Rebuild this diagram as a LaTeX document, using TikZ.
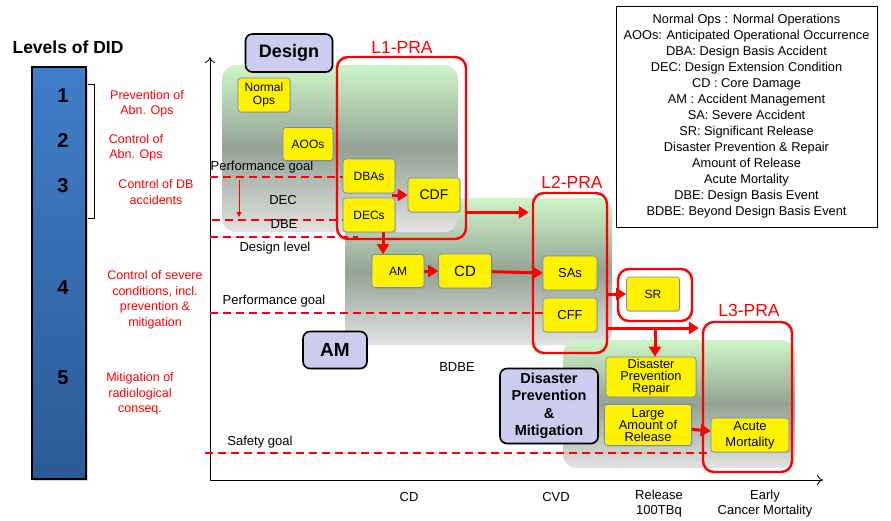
\documentclass[tikz,border=0pt]{standalone}
\usepackage{fontspec}
\setmainfont{Liberation Sans}
\usepackage{xcolor}
\usepackage{tikz}
\usetikzlibrary{arrows.meta, positioning, calc, shadows}
\tikzstyle{arr}      = [-{Triangle[length=10pt,width=12pt]}, line width=3pt, draw=red]
\newcommand{\fsz}[2]{\fontsize{#1}{#2}\selectfont}
\definecolor{didblue}{RGB}{64,126,202}
\definecolor{didbluedark}{RGB}{44,90,150}
\definecolor{lavfill}{RGB}{204,204,238}
\definecolor{ybord}{RGB}{110,140,180}
\definecolor{grtop}{RGB}{205,245,200}
\definecolor{grmid}{RGB}{148,162,148}
\definecolor{grbot}{RGB}{226,226,226}

\begin{document}
\begin{tikzpicture}[
  x=1pt, y=-1pt,
  yel/.style={rectangle, rounded corners=3pt, fill=yellow, draw=ybord,
              line width=0.7pt, align=center, inner sep=1pt,
              drop shadow={shadow xshift=1.2pt, shadow yshift=-1.2pt, opacity=0.3},
              font=\fsz{12}{13.7}},
  lavbox/.style={rectangle, rounded corners=7pt, fill=lavfill, draw=black,
                 line width=1.6pt, align=center, inner sep=1pt,
                 drop shadow={shadow xshift=1.2pt, shadow yshift=-1.2pt, opacity=0.3}},
  redbox/.style={rectangle, rounded corners=11pt, draw=red, line width=2.4pt},
  region/.style={rounded corners=14pt, top color=grtop, bottom color=grbot, middle color=grmid},
  goal/.style={draw=red, line width=1.6pt, dash pattern=on 8pt off 5pt},
  lbl/.style={font=\fsz{13}{15}, align=center},
  rtxt/.style={text=red, align=center, font=\fsz{12.5}{15.5}},
  num/.style={font=\bfseries\fsz{20}{22}},
  ar/.style={arr}
]
  \useasboundingbox (0,0) rectangle (891,520);

  % levels of defence in depth
  \node[font=\bfseries\fsz{17.5}{20}] (didtitle) at (68,47) {Levels of DID};
  \node[draw=black, line width=1.2pt, top color=didblue, bottom color=didbluedark,
        minimum width=54pt, minimum height=412pt, inner sep=0pt,
        drop shadow={shadow xshift=1.5pt, shadow yshift=-1.5pt, opacity=0.3}] (bar) at (59,273) {};
  \node[num] (n1) at (63,96)  {1};
  \node[num] (n2) at (63,141) {2};
  \node[num] (n3) at (63,186) {3};
  \node[num] (n4) at (63,288) {4};
  \node[num] (n5) at (63,378) {5};
  \draw[line width=0.8pt] (88,84) -- (94,84) -- (94,218) -- (88,218);

  \node[rtxt] (t1) at (147,104) {Prevention of\\Abn. Ops};
  \node[rtxt] (t2) at (136,148) {Control of\\Abn. Ops};
  \node[rtxt] (t3) at (156,192) {Control of DB\\accidents};
  \node[rtxt] (t4) at (155,300) {Control of severe\\conditions, incl.\\prevention \&\\mitigation};
  \node[rtxt] (t5) at (140,394) {Mitigation of\\radiological\\conseq.};

  % green regions
  \path[region] (345,198) rectangle (612,345);
  \path[region] (563,340) rectangle (795,468);
  \path[region] (222,65) rectangle (458,232);

  % axes
  \coordinate (O) at (210,480);
  \coordinate (ytop) at (210,57);
  \coordinate (xend) at (823,480);
  \draw[line width=0.8pt, -{To[length=6pt,width=10pt]}] (O) -- (ytop);
  \draw[line width=0.8pt, -{To[length=6pt,width=10pt]}] (O) -- (xend);
  \node[lbl] (xcd)  at (409,497) {CD};
  \node[lbl] (xcvd) at (556,497) {CVD};
  \node[lbl] (xrel) at (659,504) {Release\\100TBq};
  \node[lbl] (xmor) at (765,504) {Early\\Cancer Mortality};

  % goal lines
  \draw[goal] (210,177) -- (343,177);
  \draw[goal] (212,220) -- (343,220);
  \draw[goal] (210,237) -- (358,237);
  \draw[goal] (210,313) -- (543,313);
  \draw[goal] (205,453) -- (711,453);
  \coordinate (decTop) at (239,180);
  \coordinate (decBot) at (239,217);
  \draw[red, line width=1pt, -{Triangle[length=5pt,width=5pt]}] (decTop) -- (decBot);

  \node[lbl] (pg1) at (262,167) {Performance goal};
  \node[lbl] (dec) at (283,200) {DEC};
  \node[lbl] (dbe) at (284,224) {DBE};
  \node[lbl] (dl)  at (275,248) {Design level};
  \node[lbl] (pg2) at (274,301) {Performance goal};
  \node[lbl] (bdbe) at (457,367) {BDBE};
  \node[lbl] (sg)  at (260,442) {Safety goal};

  % PRA boxes
  \node[redbox, minimum width=129pt, minimum height=182pt] (L1) at (401.5,148) {};
  \node[redbox, minimum width=74pt, minimum height=160pt] (L2) at (570,273) {};
  \node[redbox, minimum width=74pt, minimum height=52pt] (SRbox) at (655,295) {};
  \node[redbox, minimum width=89pt, minimum height=150pt] (L3) at (747.5,397) {};
  \node[text=red, font=\fsz{17.5}{20}] (l1lbl) at (402,47)  {L1-PRA};
  \node[text=red, font=\fsz{17.5}{20}] (l2lbl) at (572,182) {L2-PRA};
  \node[text=red, font=\fsz{17.5}{20}] (l3lbl) at (749,310) {L3-PRA};

  % events
  \node[yel, minimum width=52pt, minimum height=34pt] (NO)   at (264,95)  {Normal\\Ops};
  \node[yel, minimum width=50pt, minimum height=33pt] (AOO)  at (308,144) {AOOs};
  \node[yel, minimum width=52pt, minimum height=34pt] (DBAs) at (369,176) {DBAs};
  \node[yel, minimum width=52pt, minimum height=34pt] (DECs) at (369,215) {DECs};
  \node[yel, minimum width=52pt, minimum height=34pt, font=\fsz{14}{16}] (CDF) at (434,195) {CDF};
  \node[yel, minimum width=52pt, minimum height=33pt] (AMy)  at (398,271) {AM};
  \node[yel, minimum width=53pt, minimum height=34pt, font=\fsz{15}{17}] (CD) at (465,271) {CD};
  \node[yel, minimum width=54pt, minimum height=34pt, font=\fsz{13}{15}] (SAs) at (570,273) {SAs};
  \node[yel, minimum width=54pt, minimum height=34pt, font=\fsz{13}{15}] (CFF) at (570,315) {CFF};
  \node[yel, minimum width=53pt, minimum height=34pt] (SR)   at (653,294) {SR};
  \node[yel, minimum width=90pt, minimum height=40pt, font=\fsz{12.8}{12.2}] (DPR) at (651,377) {Disaster\\Prevention\\Repair};
  \node[yel, minimum width=87pt, minimum height=41pt, font=\fsz{12.8}{12.2}] (LAR) at (648,425) {Large\\Amount of\\Release};
  \node[yel, minimum width=78pt, minimum height=34pt, font=\fsz{13}{16}] (AcM) at (750,435) {Acute\\Mortality};

  % phases
  \node[lavbox, minimum width=87pt, minimum height=38pt, font=\bfseries\fsz{18}{20}] (design) at (289,53) {Design};
  \node[lavbox, minimum width=64pt, minimum height=37pt, font=\bfseries\fsz{19}{21}] (AMlav) at (335,350) {AM};
  \node[lavbox, minimum width=98pt, minimum height=75pt, font=\bfseries\fsz{14.5}{17.5}] (DPM) at (549,406) {Disaster\\Prevention\\\&\\Mitigation};

  % flow
  \coordinate (j1) at (392,195);
  \coordinate (split) at (655,328);
  \draw[ar] (j1) -- (CDF.west);
  \draw[ar] ([xshift=14pt]DECs.south) -- ([xshift=14pt]DECs.south |- AMy.north);
  \draw[ar] (AMy) -- (CD);
  \draw[ar] (CD) -- (SAs.west);
  \draw[ar] (L1.east |- CDF.south) -- ([xshift=-3pt]L2.west |- CDF.south);
  \draw[ar] (L2.east |- SR) -- (SR.west);
  \draw[ar] (L2.east |- split) -- ([xshift=-3pt]L3.west |- split);
  \draw[ar] (split) -- (split |- DPR.north);
  \draw[ar] (LAR) -- (AcM);

  % legend
  \node[draw, line width=0.6pt, align=center, minimum width=261pt, minimum height=221pt,
        font=\fsz{12.8}{16}] (legend) at (746.5,116.5) {%
    Normal Ops : Normal Operations\\
    AOOs: Anticipated Operational Occurrence\\
    DBA: Design Basis Accident\\
    DEC: Design Extension Condition\\
    CD : Core Damage\\
    AM : Accident Management\\
    SA: Severe Accident\\
    SR: Significant Release\\
    Disaster Prevention \& Repair\\
    Amount of Release\\
    Acute Mortality\\
    DBE: Design Basis Event\\
    BDBE: Beyond Design Basis Event};
\end{tikzpicture}
\end{document}
